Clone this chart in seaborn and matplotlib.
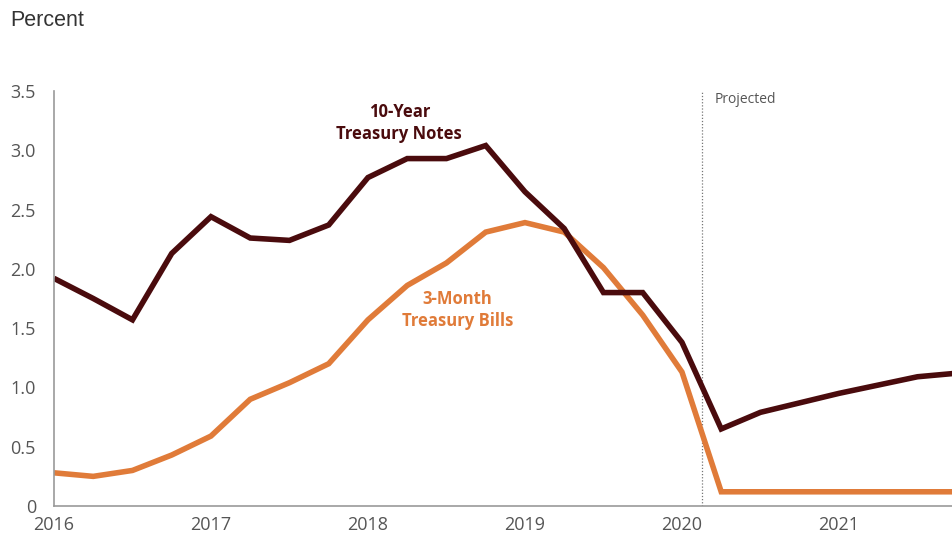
import matplotlib
matplotlib.use("Agg")
import matplotlib.pyplot as plt
import seaborn as sns
import pandas as pd

quarters = ["2016Q1", "2016Q2", "2016Q3", "2016Q4",
            "2017Q1", "2017Q2", "2017Q3", "2017Q4",
            "2018Q1", "2018Q2", "2018Q3", "2018Q4",
            "2019Q1", "2019Q2", "2019Q3", "2019Q4",
            "2020Q1", "2020Q2", "2020Q3", "2020Q4",
            "2021Q1", "2021Q2", "2021Q3", "2021Q4"]
ten_year = [1.92, 1.75, 1.57, 2.13,
            2.44, 2.26, 2.24, 2.37,
            2.77, 2.93, 2.93, 3.04,
            2.65, 2.34, 1.80, 1.80,
            1.38, 0.65, 0.79, 0.87,
            0.95, 1.02, 1.09, 1.12]
three_month = [0.28, 0.25, 0.30, 0.43,
               0.59, 0.90, 1.04, 1.20,
               1.57, 1.86, 2.05, 2.31,
               2.39, 2.31, 2.01, 1.61,
               1.13, 0.12, 0.12, 0.12,
               0.12, 0.12, 0.12, 0.12]
year_ticks = [2016, 2017, 2018, 2019, 2020, 2021]
y_ticks = [0, 0.5, 1.0, 1.5, 2.0, 2.5, 3.0, 3.5]
y_tick_labels = ["0", "0.5", "1.0", "1.5", "2.0", "2.5", "3.0", "3.5"]
projection_start = 2020.13

def to_decimal(q):
    return int(q[:4]) + (int(q[-1]) - 1) / 4

x = [to_decimal(q) for q in quarters]
df = pd.DataFrame({"x": x, "ten": ten_year, "three": three_month})

sns.set_theme(style="white")
plt.rcParams["font.family"] = ["Open Sans", "DejaVu Sans"]

MAROON = "#4a0b0d"
ORANGE = "#e07b39"
GREY = "#555555"

fig = plt.figure(figsize=(9.52, 5.39), dpi=100)
ax = fig.add_axes([0.0567, 0.0612, 0.9433, 0.770])

sns.lineplot(data=df, x="x", y="three", ax=ax, color=ORANGE, linewidth=4.0,
             solid_joinstyle="miter", solid_capstyle="butt")
sns.lineplot(data=df, x="x", y="ten", ax=ax, color=MAROON, linewidth=4.0,
             solid_joinstyle="miter", solid_capstyle="butt")

ax.axvline(projection_start, ymin=0, ymax=1, color="#777777", linestyle=(0, (1, 1.5)),
           linewidth=0.9, zorder=1)

ax.set_xlim(2016, 2021.72)
ax.set_ylim(0, 3.5)
ax.set_xticks(year_ticks)
ax.set_xticklabels([str(y) for y in year_ticks])
ax.set_yticks(y_ticks)
ax.set_yticklabels(y_tick_labels)
ax.set_xlabel("")
ax.set_ylabel("")

for side in ["top", "right"]:
    ax.spines[side].set_visible(False)
for side in ["left", "bottom"]:
    ax.spines[side].set_color("#999999")
    ax.spines[side].set_linewidth(1.2)

ax.tick_params(axis="both", direction="in", length=5, width=1, color="#999999",
               labelsize=13, labelcolor=GREY)
ax.tick_params(axis="x", pad=7)
ax.tick_params(axis="y", pad=13)

ax.text(2018.20, 3.23, "10-Year\nTreasury Notes", color=MAROON, fontsize=12,
        fontweight="bold", ha="center", va="center", linespacing=1.3)
ax.text(2018.57, 1.65, "3-Month\nTreasury Bills", color=ORANGE, fontsize=12,
        fontweight="bold", ha="center", va="center", linespacing=1.3)
ax.text(2020.21, 3.43, "Projected", color=GREY, fontsize=10, ha="left", va="center")

fig.text(10 / 952, 1 - 20 / 539, "Percent", color="#333333", fontsize=15.5,
         ha="left", va="center", family=["Liberation Sans", "DejaVu Sans"])

fig.savefig("out.png", dpi=100)
